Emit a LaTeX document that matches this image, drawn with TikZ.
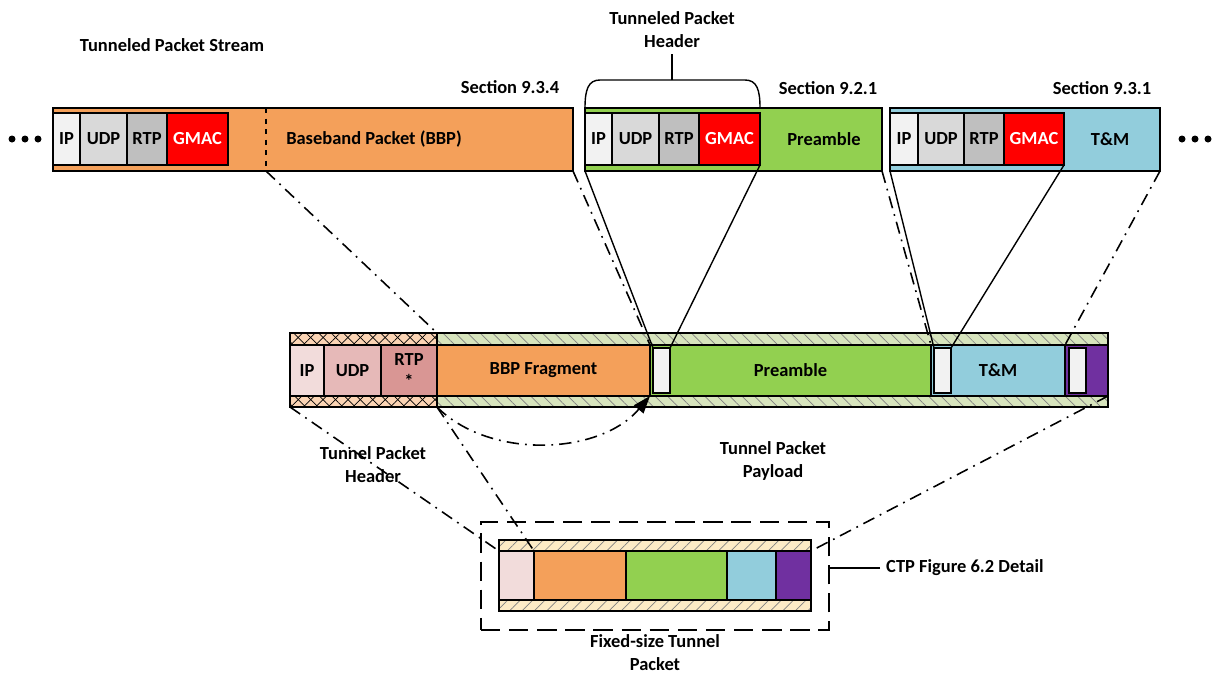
\documentclass[tikz,border=0pt]{standalone}
\usepackage{fontspec}
\setmainfont{Carlito}
\usepackage{xcolor}
\usetikzlibrary{arrows.meta,patterns.meta}

\definecolor{bbporange}{HTML}{F4A05A}
\definecolor{pregreen}{HTML}{92D050}
\definecolor{tmblue}{HTML}{92CDDC}
\definecolor{gmacred}{HTML}{FF0000}
\definecolor{ipgray}{HTML}{F2F2F2}
\definecolor{udpgray}{HTML}{D9D9D9}
\definecolor{rtpgray}{HTML}{BFBFBF}
\definecolor{tipink}{HTML}{F2DCDB}
\definecolor{tudppink}{HTML}{E6B9B8}
\definecolor{trtppink}{HTML}{D99694}
\definecolor{hdrpeach}{HTML}{FBD4B4}
\definecolor{paygreen}{HTML}{D7E4BD}
\definecolor{fixtan}{HTML}{FCEBC6}
\definecolor{tmpurple}{HTML}{7030A0}

\begin{document}
\begin{tikzpicture}[x=0.2mm, y=-0.2mm,
  font=\fontsize{10.5}{13}\selectfont\bfseries,
  box/.style 2 args={draw, line width=0.8pt, inner sep=0pt, outer sep=0pt,
    anchor=north west, minimum width=#1*0.2mm, minimum height=#2*0.2mm},
  hdrband/.style={preaction={fill=hdrpeach},
    pattern={Lines[angle=45,distance=5pt,line width=0.4pt]},
    postaction={pattern={Lines[angle=-45,distance=5pt,line width=0.4pt]}}},
  payband/.style={preaction={fill=paygreen},
    pattern={Lines[angle=-45,distance=5pt,line width=0.4pt]}, pattern color=gray},
  fixband/.style={preaction={fill=fixtan},
    pattern={Lines[angle=45,distance=5pt,line width=0.4pt]}, pattern color=gray},
  dashdot/.style={line width=0.9pt, dash pattern=on 7pt off 3.5pt on 1pt off 3.5pt},
  solidlink/.style={line width=0.8pt}
]
\useasboundingbox (0,0) rectangle (1214,673);

% stream dots
\foreach \x in {12,25,38,1182,1195,1208}
  \fill (\x,139) circle (3.5);

% tunneled packet stream
\node (stream) at (172,45) {Tunneled Packet Stream};
\node (sec934) at (510,87) {Section 9.3.4};
\node (sec921) at (828,88) {Section 9.2.1};
\node (sec931) at (1102,88) {Section 9.3.1};

\node[box={520}{63}, fill=bbporange] (bbp) at (53,108) {};
\node[box={27}{52}, fill=ipgray] (ip1) at (53,113) {IP};
\node[box={47}{52}, fill=udpgray] (udp1) at (80,113) {UDP};
\node[box={40}{52}, fill=rtpgray] (rtp1) at (127,113) {RTP};
\node[box={61}{52}, fill=gmacred, text=white] (gmac1) at (167,113) {GMAC};
\draw[dashed, line width=0.8pt] (266,108) -- (266,171) coordinate (cut);
\node (bbplbl) at (374,139) {Baseband Packet (BBP)};

\node[box={297}{63}, fill=pregreen] (pre) at (585,108) {};
\node[box={27}{52}, fill=ipgray] (ip2) at (585,113) {IP};
\node[box={47}{52}, fill=udpgray] (udp2) at (612,113) {UDP};
\node[box={40}{52}, fill=rtpgray] (rtp2) at (659,113) {RTP};
\node[box={61}{52}, fill=gmacred, text=white] (gmac2) at (699,113) {GMAC};
\node (prelbl) at (824,139) {Preamble};

\node[box={270}{63}, fill=tmblue] (tm) at (890,108) {};
\node[box={28}{52}, fill=ipgray] (ip3) at (890,113) {IP};
\node[box={46}{52}, fill=udpgray] (udp3) at (918,113) {UDP};
\node[box={40}{52}, fill=rtpgray] (rtp3) at (964,113) {RTP};
\node[box={60}{52}, fill=gmacred, text=white] (gmac3) at (1004,113) {GMAC};
\node (tmlbl) at (1110,139) {T\&M};

% tunneled packet header brace
\node[align=center] (tphdr) at (672,30) {Tunneled Packet\\Header};
\coordinate (brtop) at (672,80);
\draw[solidlink] (pre.north west) .. controls (585,90) and (588,80) .. (600,80)
  -- (745,80) .. controls (757,80) and (760,90) .. (760,108);
\draw[solidlink] (brtop) -- (tphdr.south);

% tunnel packet
\node[box={147}{74}, hdrband] (hdr) at (290,333) {};
\node[box={671}{74}, payband] (pay) at (437,333) {};
\node[box={34}{51}, fill=tipink] (ip4) at (290,345) {IP};
\node[box={57}{51}, fill=tudppink] (udp4) at (324,345) {UDP};
\node[box={56}{51}, fill=trtppink, align=center] (rtp4) at (381,345) {RTP\\*};
\node[box={213}{51}, fill=bbporange] (frag) at (437,345) {BBP Fragment};
\node[box={281}{51}, fill=pregreen] (pream) at (650,345) {Preamble};
\node[box={134}{51}, fill=tmblue] (tm2) at (931,345) {T\&M};
\node[box={43}{51}, fill=tmpurple] (purp) at (1065,345) {};
\node[box={17}{45}, fill=ipgray] (wb1) at (653,348) {};
\node[box={17}{45}, fill=ipgray] (wb2) at (934,348) {};
\node[box={17}{45}, fill=ipgray] (wb3) at (1069,348) {};

\node[align=center] (tphlbl) at (373,465) {Tunnel Packet\\Header};
\node[align=center] (tpplbl) at (773,461) {Tunnel Packet\\Payload};

% fixed-size tunnel packet
\node[box={348}{108}, dashed, line width=1.6pt, dash pattern=on 11pt off 5pt] (ctp) at (481,522) {};
\node[box={312}{71}, fixband] (fix) at (499,540) {};
\node[box={35}{49}, fill=tipink] (pink2) at (499,551) {};
\node[box={92}{49}, fill=bbporange] (org2) at (534,551) {};
\node[box={101}{49}, fill=pregreen] (grn2) at (626,551) {};
\node[box={49}{49}, fill=tmblue] (blu2) at (727,551) {};
\node[box={35}{49}, fill=tmpurple] (purp2) at (776,551) {};
\node[align=center] (fixlbl) at (655,653) {Fixed-size Tunnel\\Packet};
\node[anchor=west] (ctplbl) at (880,568) {CTP Figure 6.2 Detail};
\draw[solidlink] (ctplbl.west) -- (ctplbl.west -| ctp.east);

% links stream -> tunnel packet
\draw[dashdot] (cut) -- (hdr.north east);
\draw[dashdot] (bbp.south east) -- (frag.north east);
\draw[solidlink] (pre.south west) -- (wb1.north west);
\draw[solidlink] (gmac2.south east) -- (wb1.north east);
\draw[dashdot] (pre.south east) -- (pream.north east);
\draw[solidlink] (tm.south west) -- (wb2.north west);
\draw[solidlink] (gmac3.south east) -- (wb2.north east);
\draw[dashdot] (tm.south east) -- (purp.north west);

% links tunnel packet -> fixed-size packet
\draw[dashdot] (hdr.south west) -- (pink2.north west);
\draw[dashdot] (hdr.south east) -- (pink2.north east);
\draw[dashdot] (purp.south east) -- (purp2.north east);
\draw[dashdot, -{Triangle[length=10pt,width=7pt]}] (hdr.south east)
  .. controls (490,460) and (600,455) .. (frag.south east);
\end{tikzpicture}
\end{document}
